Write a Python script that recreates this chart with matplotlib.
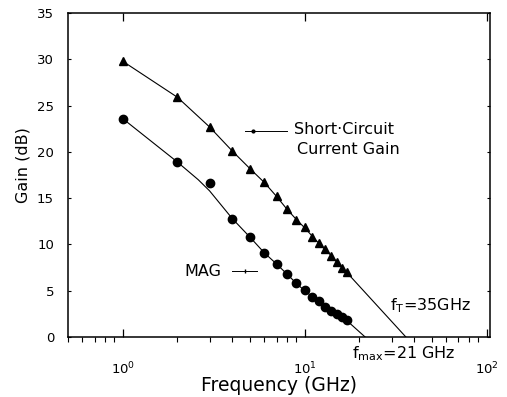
import numpy as np
import matplotlib as mpl
mpl.use('Agg')
from matplotlib import pyplot as plt

# measured data (frequency in GHz, gain in dB)
freqH21 = [1, 2, 3, 4, 5, 6, 7, 8, 9, 10, 11, 12, 13, 14, 15, 16, 17]
gainH21 = [29.8, 25.9, 22.7, 20.1, 18.2, 16.7, 15.2, 13.8, 12.7, 11.9,
           10.8, 10.2, 9.5, 8.8, 8.1, 7.5, 7.0]

freqMAG = [1, 2, 3, 4, 5, 6, 7, 8, 9, 10, 11, 12, 13, 14, 15, 16, 17]
gainMAG = [23.6, 18.9, 16.6, 12.8, 10.8, 9.1, 7.9, 6.8, 5.8, 5.1,
           4.3, 3.9, 3.2, 2.8, 2.5, 2.2, 1.8]

# hand drawn fit curves
fitFreqH21 = [1, 2, 3, 4, 5, 6, 7, 8, 9, 10, 11, 12, 13, 14, 15, 16, 17, 36]
fitGainH21 = [29.8, 25.9, 22.7, 20.1, 18.2, 16.7, 15.2, 13.8, 12.7, 11.8,
              10.9, 10.1, 9.4, 8.8, 8.1, 7.5, 7.0, 0.0]

fitFreqMAG = [1, 2, 2.6, 3, 4, 5, 6, 7, 8, 9, 10, 12, 14, 17, 21.5]
fitGainMAG = [23.6, 18.9, 17.0, 15.8, 12.8, 10.8, 9.1, 7.9, 6.8, 5.8,
              5.0, 3.8, 2.9, 1.8, 0.0]

yTicks = [0, 5, 10, 15, 20, 25, 30, 35]

mpl.rcParams['font.family'] = ['DejaVu Sans']
mpl.rcParams['mathtext.fontset'] = 'dejavusans'
mpl.rcParams['mathtext.default'] = 'regular'

f, ax1 = plt.subplots(1)
f.set_size_inches(5.07, 3.97)
f.subplots_adjust(left = 0.134, right = 0.966, bottom = 0.151, top = 0.967)

lineWidth = 0.8

ax1.plot(fitFreqH21, fitGainH21, color = 'black', lw = lineWidth, zorder = 2)
ax1.plot(fitFreqMAG, fitGainMAG, color = 'black', lw = lineWidth, zorder = 2)
ax1.plot(freqH21, gainH21, ls = 'None', marker = '^', ms = 6.0,
         color = 'black', zorder = 3)
ax1.plot(freqMAG, gainMAG, ls = 'None', marker = 'o', ms = 6.0,
         color = 'black', zorder = 3)

ax1.set_xscale('log')
ax1.set_xlim(0.5, 104.0)
ax1.set_ylim(0.0, 35.0)
ax1.set_yticks(yTicks)

ax1.tick_params('both', direction = 'in', top = True, right = True)
ax1.tick_params('x', which = 'major', length = 6, width = 0.9, pad = 17,
                labelsize = 9.5)
ax1.tick_params('x', which = 'minor', length = 3.5, width = 0.8)
ax1.tick_params('y', which = 'major', length = 2.5, width = 0.8, pad = 10,
                labelsize = 9.5)
ax1.yaxis.set_minor_locator(mpl.ticker.NullLocator())

for spine in ax1.spines.values():
    spine.set_linewidth(1.1)

ax1.set_xlabel('Frequency (GHz)', fontsize = 13.5)
ax1.set_ylabel('Gain (dB)', fontsize = 11.5)
ax1.xaxis.labelpad = -1
ax1.yaxis.set_label_coords(-0.088, 0.53)

# annotations
textSize = 11.5
ax1.text(8.7, 22.4, 'Short·Circuit', fontsize = textSize, va = 'center')
ax1.text(9.05, 20.3, 'Current Gain', fontsize = textSize, va = 'center')
ax1.plot([4.7, 8.0], [22.25, 22.25], color = 'black', lw = 0.7)
ax1.plot([5.2], [22.25], marker = 'o', ms = 2.0, color = 'black')

ax1.text(2.19, 7.1, 'MAG', fontsize = textSize, va = 'center')
ax1.plot([4.0, 5.5], [7.15, 7.15], color = 'black', lw = 0.7)
ax1.plot([4.7], [7.15], marker = '|', ms = 3.0, color = 'black')

ax1.text(29.5, 3.35, r'f$_\mathrm{T}$=35GHz', fontsize = textSize, va = 'center')
ax1.text(18.2, -1.75, r'f$_\mathrm{max}$=21 GHz', fontsize = textSize,
         va = 'center', clip_on = False)

f.savefig('out.png', dpi = 100)
plt.close()
